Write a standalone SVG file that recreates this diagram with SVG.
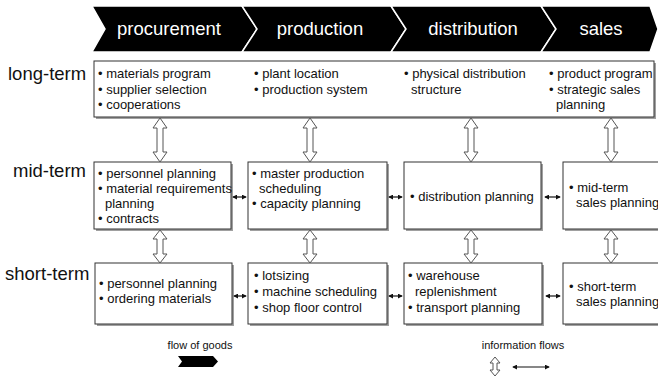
<svg xmlns="http://www.w3.org/2000/svg" width="658" height="376" viewBox="0 0 658 376">
<style>
.hdr{font-family:"Liberation Sans",Arial,sans-serif;font-size:18.5px;fill:#fff;text-anchor:middle}
.row{font-family:"Liberation Sans",Arial,sans-serif;font-size:18.5px;fill:#111}
.t{font-family:"Liberation Sans",Arial,sans-serif;font-size:13px;fill:#111}
.lg{font-family:"Liberation Sans",Arial,sans-serif;font-size:11px;fill:#111;text-anchor:middle}
.box{fill:#fff;stroke:#333;stroke-width:1}
.sh{fill:#a0a0a0}
.chev{fill:#000;stroke:#fff;stroke-width:1.5}
.va{fill:#fff;stroke:#555;stroke-width:1}
.ha{stroke:#111;stroke-width:1.2;fill:none;marker-start:url(#ah);marker-end:url(#ah)}
</style>
<defs>
<marker id="ah" viewBox="0 0 6 6" refX="5" refY="3" markerWidth="5" markerHeight="5" orient="auto-start-reverse" markerUnits="userSpaceOnUse">
<path d="M0,0 L6,3 L0,6 Z" fill="#111"/>
</marker>
<path id="va1" d="M0,0 L7,10 L3,10 L3,34 L7,34 L0,44 L-7,34 L-3,34 L-3,10 L-7,10 Z"/>
<path id="va2" d="M0,0 L7,9 L3,9 L3,24 L7,24 L0,33 L-7,24 L-3,24 L-3,9 L-7,9 Z"/>
<path id="va3" d="M0,0 L5,6 L2,6 L2,13 L5,13 L0,19 L-5,13 L-2,13 L-2,6 L-5,6 Z"/>
</defs>
<rect width="658" height="376" fill="#fff"/>

<g id="header">
<polygon class="chev" points="92,6 242,6 257,29 242,52 92,52 105,29"/>
<polygon class="chev" points="242,6 391,6 406,29 391,52 242,52 257,29"/>
<polygon class="chev" points="391,6 541,6 556,29 541,52 391,52 406,29"/>
<polygon class="chev" points="541,6 650,6 658,29 650,52 541,52 556,29"/>
<text class="hdr" x="169" y="35">procurement</text>
<text class="hdr" x="320" y="35">production</text>
<text class="hdr" x="473" y="35">distribution</text>
<text class="hdr" x="601" y="35">sales</text>
</g>

<g id="row-labels">
<text class="row" x="8" y="80">long-term</text>
<text class="row" x="13" y="177">mid-term</text>
<text class="row" x="5" y="280">short-term</text>
</g>

<g id="long-term">
<rect class="sh" x="96" y="63" width="560" height="56"/>
<rect class="box" x="94" y="61" width="560" height="56"/>
<text class="t" x="98" y="78">• materials program</text>
<text class="t" x="98" y="94">• supplier selection</text>
<text class="t" x="98" y="109">• cooperations</text>
<text class="t" x="254" y="78">• plant location</text>
<text class="t" x="254" y="94">• production system</text>
<text class="t" x="404" y="78">• physical distribution</text>
<text class="t" x="411" y="94">structure</text>
<text class="t" x="549" y="78">• product program</text>
<text class="t" x="549" y="94">• strategic sales</text>
<text class="t" x="556" y="109">planning</text>
</g>

<g id="mid-procurement">
<rect class="sh" x="96" y="164" width="137" height="67"/>
<rect class="box" x="94" y="162" width="137" height="67"/>
<text class="t" x="98" y="178">• personnel planning</text>
<text class="t" x="98" y="193">• material requirements</text>
<text class="t" x="105" y="208">planning</text>
<text class="t" x="98" y="223">• contracts</text>
</g>
<g id="mid-production">
<rect class="sh" x="250" y="164" width="139" height="67"/>
<rect class="box" x="248" y="162" width="139" height="67"/>
<text class="t" x="252" y="178">• master production</text>
<text class="t" x="259" y="193">scheduling</text>
<text class="t" x="252" y="208">• capacity planning</text>
</g>
<g id="mid-distribution">
<rect class="sh" x="406" y="164" width="137" height="67"/>
<rect class="box" x="404" y="162" width="137" height="67"/>
<text class="t" x="410" y="201">• distribution planning</text>
</g>
<g id="mid-sales">
<rect class="sh" x="565" y="164" width="100" height="67"/>
<rect class="box" x="563" y="162" width="100" height="67"/>
<text class="t" x="569" y="192">• mid-term</text>
<text class="t" x="576" y="207">sales planning</text>
</g>

<g id="short-procurement">
<rect class="sh" x="97" y="265" width="137" height="61"/>
<rect class="box" x="95" y="263" width="137" height="61"/>
<text class="t" x="99" y="288">• personnel planning</text>
<text class="t" x="99" y="303">• ordering materials</text>
</g>
<g id="short-production">
<rect class="sh" x="250" y="265" width="139" height="61"/>
<rect class="box" x="248" y="263" width="139" height="61"/>
<text class="t" x="254" y="280">• lotsizing</text>
<text class="t" x="254" y="296">• machine scheduling</text>
<text class="t" x="254" y="312">• shop floor control</text>
</g>
<g id="short-distribution">
<rect class="sh" x="406" y="265" width="138" height="61"/>
<rect class="box" x="404" y="263" width="138" height="61"/>
<text class="t" x="408" y="280">• warehouse</text>
<text class="t" x="415" y="296">replenishment</text>
<text class="t" x="408" y="312">• transport planning</text>
</g>
<g id="short-sales">
<rect class="sh" x="565" y="265" width="100" height="61"/>
<rect class="box" x="563" y="263" width="100" height="61"/>
<text class="t" x="569" y="291">• short-term</text>
<text class="t" x="576" y="306">sales planning</text>
</g>

<g id="connectors">
<use href="#va1" class="va" transform="translate(160,118)"/>
<use href="#va1" class="va" transform="translate(310,118)"/>
<use href="#va1" class="va" transform="translate(471,118)"/>
<use href="#va1" class="va" transform="translate(611,118)"/>
<use href="#va2" class="va" transform="translate(160,230)"/>
<use href="#va2" class="va" transform="translate(310,230)"/>
<use href="#va2" class="va" transform="translate(471,230)"/>
<use href="#va2" class="va" transform="translate(611,230)"/>
<line class="ha" x1="233" y1="197" x2="246" y2="197"/>
<line class="ha" x1="389" y1="197" x2="402" y2="197"/>
<line class="ha" x1="545" y1="197" x2="560" y2="197"/>
<line class="ha" x1="234" y1="296" x2="246" y2="296"/>
<line class="ha" x1="389" y1="296" x2="402" y2="296"/>
<line class="ha" x1="546" y1="296" x2="560" y2="296"/>
</g>

<g id="legend">
<text class="lg" x="200" y="349">flow of goods</text>
<polygon points="178,356 213,356 218,361.5 213,367 178,367 182,361.5" fill="#000"/>
<text class="lg" x="523" y="349">information flows</text>
<use href="#va3" class="va" transform="translate(495,357)"/>
<line class="ha" x1="513" y1="367" x2="549" y2="367"/>
</g>
</svg>
